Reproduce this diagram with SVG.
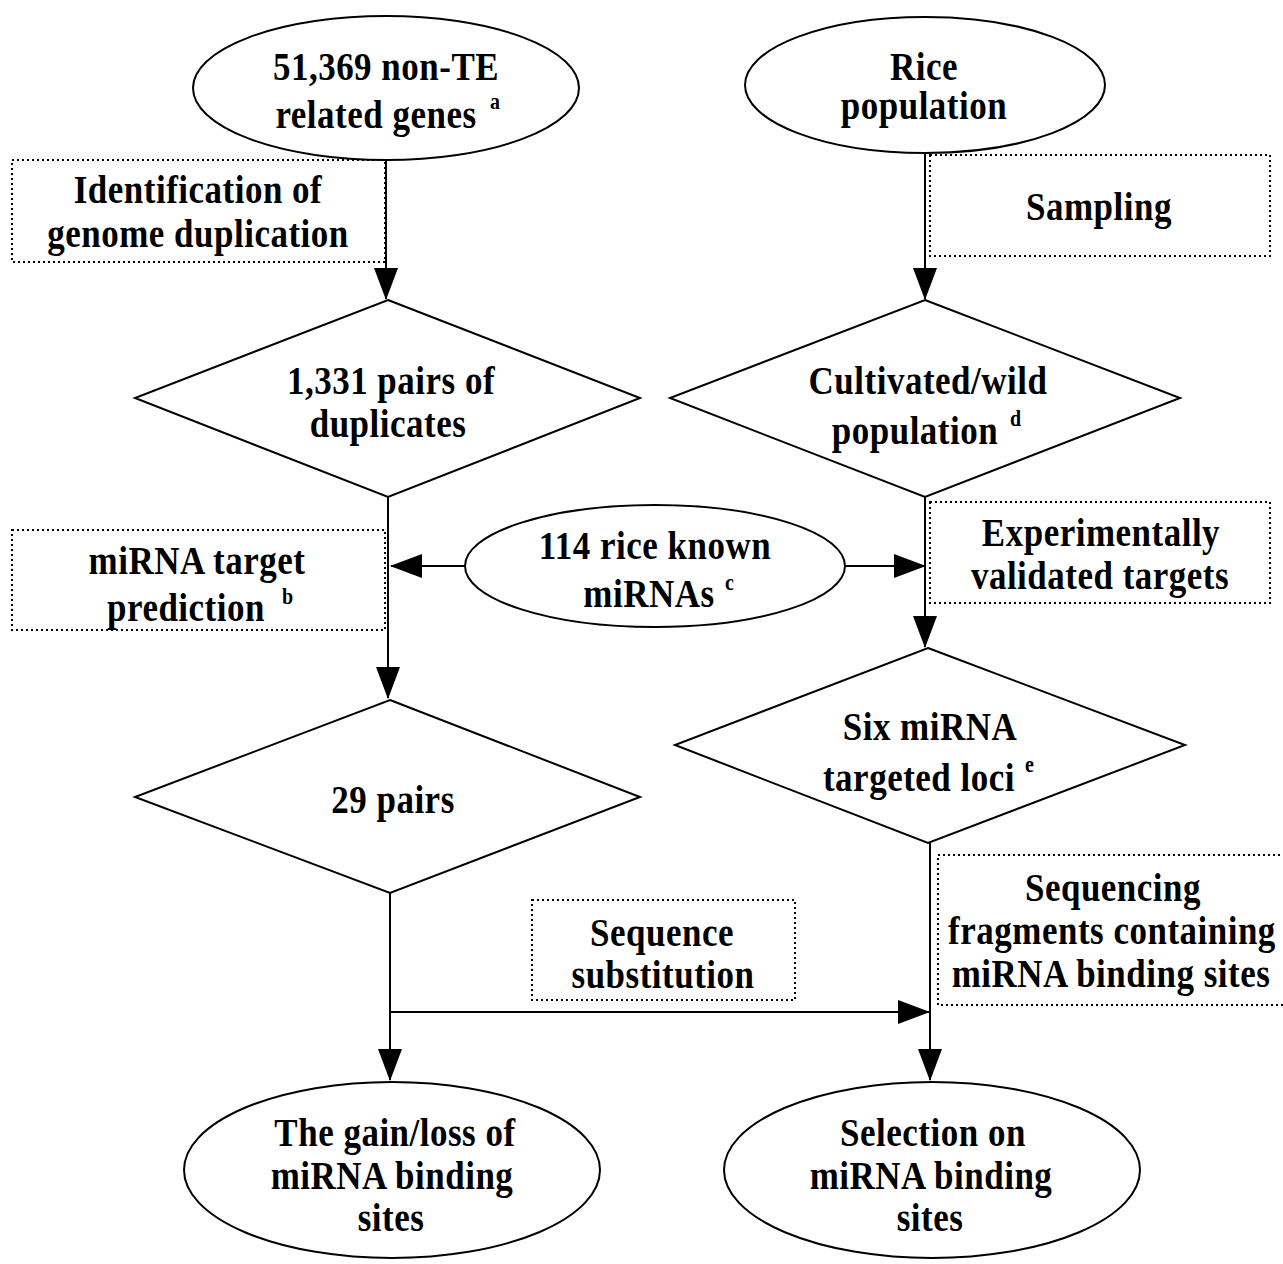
<svg xmlns="http://www.w3.org/2000/svg" width="1283" height="1264" viewBox="0 0 1283 1264">
<style>
.shape{fill:#fff;stroke:#000;stroke-width:2}
.note{fill:none;stroke:#000;stroke-width:2;stroke-dasharray:2 3}
.conn{fill:none;stroke:#000;stroke-width:2}
text{font-family:"Liberation Serif","Times New Roman",serif;font-weight:bold;font-size:35px;fill:#000;text-anchor:middle;letter-spacing:0.5px;transform-box:fill-box;transform-origin:center;transform:scaleY(1.12)}
.sup{font-size:20px;text-anchor:start}
</style>
<defs>
<marker id="ah" markerUnits="userSpaceOnUse" markerWidth="32" markerHeight="26" refX="31" refY="12" orient="auto">
<path d="M0,0 L32,12 L0,24 z" fill="#000"/>
</marker>
</defs>
<g id="connectors">
<line class="conn" x1="386" y1="160" x2="386" y2="299" marker-end="url(#ah)"/>
<line class="conn" x1="925" y1="153" x2="925" y2="299" marker-end="url(#ah)"/>
<line class="conn" x1="388" y1="497" x2="388" y2="698" marker-end="url(#ah)"/>
<line class="conn" x1="466" y1="566" x2="391" y2="566" marker-end="url(#ah)"/>
<line class="conn" x1="845" y1="566" x2="925" y2="566" marker-end="url(#ah)"/>
<line class="conn" x1="925" y1="497" x2="925" y2="647" marker-end="url(#ah)"/>
<line class="conn" x1="390" y1="893" x2="390" y2="1080" marker-end="url(#ah)"/>
<line class="conn" x1="390" y1="1012" x2="929" y2="1012" marker-end="url(#ah)"/>
<line class="conn" x1="930" y1="843" x2="930" y2="1080" marker-end="url(#ah)"/>
</g>
<g id="n1">
<ellipse class="shape" cx="386" cy="88" rx="193" ry="72"/>
<text x="386" y="79">51,369 non-TE</text>
<text x="376" y="127">related genes</text>
<text class="sup" x="490" y="108">a</text>
</g>
<g id="n2">
<ellipse class="shape" cx="925" cy="85" rx="180" ry="68"/>
<text x="924" y="79">Rice</text>
<text x="924" y="118">population</text>
</g>
<g id="l1">
<rect class="note" x="12" y="160" width="373" height="102"/>
<text x="198" y="202">Identification of</text>
<text x="198" y="246">genome duplication</text>
</g>
<g id="l2">
<rect class="note" x="930" y="155" width="340" height="101"/>
<text x="1099" y="219">Sampling</text>
</g>
<g id="n3">
<polygon class="shape" points="388,300 640,398 388,497 135,398"/>
<text x="391" y="393">1,331 pairs of</text>
<text x="388" y="436">duplicates</text>
</g>
<g id="n4">
<polygon class="shape" points="925,300 1180,398 925,497 670,398"/>
<text x="928" y="393">Cultivated/wild</text>
<text x="915" y="443">population</text>
<text class="sup" x="1010" y="425">d</text>
</g>
<g id="l3">
<rect class="note" x="12" y="530" width="373" height="100"/>
<text x="197" y="573">miRNA target</text>
<text x="186" y="620">prediction</text>
<text class="sup" x="282" y="603">b</text>
</g>
<g id="n5">
<ellipse class="shape" cx="655" cy="566" rx="190" ry="61"/>
<text x="655" y="558">114 rice known</text>
<text x="649" y="606">miRNAs</text>
<text class="sup" x="725" y="589">c</text>
</g>
<g id="l4">
<rect class="note" x="930" y="502" width="340" height="101"/>
<text x="1101" y="545">Experimentally</text>
<text x="1100" y="588">validated targets</text>
</g>
<g id="n6">
<polygon class="shape" points="390,700 640,797 390,893 135,797"/>
<text x="393" y="812">29 pairs</text>
</g>
<g id="n7">
<polygon class="shape" points="928,648 1185,745 928,843 675,745"/>
<text x="930" y="739">Six miRNA</text>
<text x="919" y="790">targeted loci</text>
<text class="sup" x="1025" y="771">e</text>
</g>
<g id="l5">
<rect class="note" x="532" y="900" width="263" height="100"/>
<text x="662" y="945">Sequence</text>
<text x="663" y="987">substitution</text>
</g>
<g id="l6">
<rect class="note" x="938" y="855" width="350" height="150"/>
<text x="1113" y="900">Sequencing</text>
<text x="1112" y="943">fragments containing</text>
<text x="1111" y="986">miRNA binding sites</text>
</g>
<g id="n8">
<ellipse class="shape" cx="392" cy="1170" rx="208" ry="88"/>
<text x="395" y="1145">The gain/loss of</text>
<text x="392" y="1188">miRNA binding</text>
<text x="391" y="1230">sites</text>
</g>
<g id="n9">
<ellipse class="shape" cx="932" cy="1170" rx="208" ry="88"/>
<text x="933" y="1145">Selection on</text>
<text x="931" y="1188">miRNA binding</text>
<text x="930" y="1230">sites</text>
</g>
</svg>
